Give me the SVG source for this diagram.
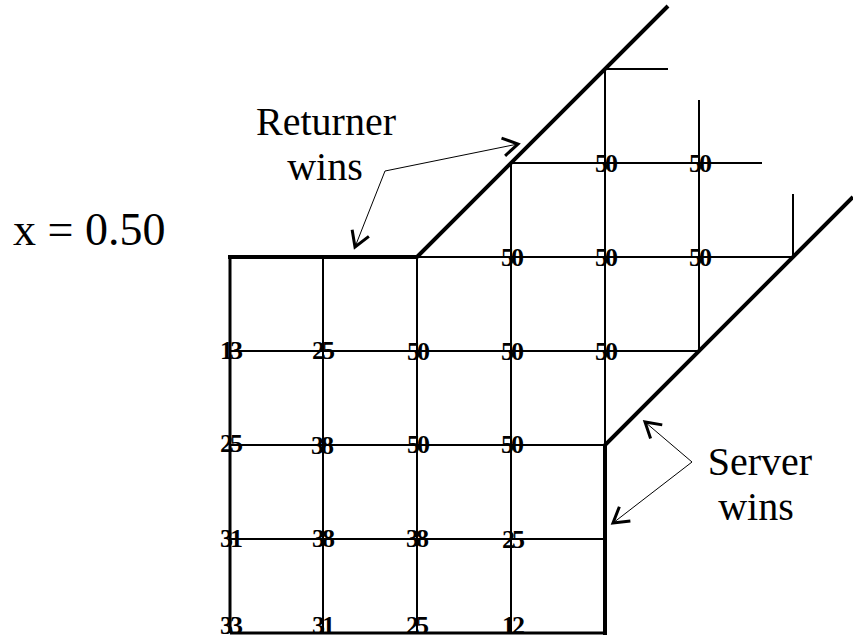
<svg xmlns="http://www.w3.org/2000/svg" width="853" height="639" viewBox="0 0 853 639">
<style>
.thin{stroke:#000;stroke-width:2;fill:none}
.thick{stroke:#000;stroke-width:4;fill:none;stroke-linecap:butt}
.lead{stroke:#000;stroke-width:1;fill:none}
text{font-family:"Liberation Serif","Times New Roman","DejaVu Serif",serif;fill:#000}
.num{font-size:26px;letter-spacing:-3px;text-anchor:middle;font-weight:bold}
.lbl{font-size:40px;text-anchor:middle}
.ttl{font-size:46px}
</style>
<defs>
<marker id="arr" markerUnits="userSpaceOnUse" markerWidth="24" markerHeight="24" refX="0" refY="0" viewBox="-20 -12 24 24" orient="auto">
<path d="M-15,-9 L0,0 L-15,9" fill="none" stroke="#000" stroke-width="3"/>
</marker>
</defs>
<rect width="853" height="639" fill="#fff"/>
<g id="grid">
<line class="thin" x1="323" y1="257" x2="323" y2="633"/>
<line class="thin" x1="417" y1="257" x2="417" y2="633"/>
<line class="thin" x1="511" y1="163" x2="511" y2="633"/>
<line class="thin" x1="605" y1="69" x2="605" y2="445"/>
<line class="thin" x1="699" y1="100" x2="699" y2="351"/>
<line class="thin" x1="793" y1="194" x2="793" y2="257"/>
<line class="thin" x1="605" y1="69" x2="668" y2="69"/>
<line class="thin" x1="511" y1="163" x2="762" y2="163"/>
<line class="thin" x1="417" y1="257" x2="793" y2="257"/>
<line class="thin" x1="230" y1="351" x2="699" y2="351"/>
<line class="thin" x1="230" y1="445" x2="605" y2="445"/>
<line class="thin" x1="230" y1="539" x2="605" y2="539"/>
<line class="thin" x1="230" y1="633" x2="605" y2="633" style="stroke-width:3"/>
<line class="thin" x1="230" y1="257" x2="230" y2="633" style="stroke-width:3"/>
</g>
<g id="boundaries">
<polyline class="thick" points="228,257 417,257 668,6"/>
<polyline class="thick" points="605,635 605,445 853,197"/>
</g>
<g id="values">
<text class="num" x="605" y="172">50</text><text class="num" x="699" y="172">50</text>
<text class="num" x="511" y="266">50</text><text class="num" x="605" y="266">50</text><text class="num" x="699" y="266">50</text>
<text class="num" x="230" y="359">13</text><text class="num" x="322" y="359">25</text><text class="num" x="417" y="360">50</text><text class="num" x="511" y="360">50</text><text class="num" x="605" y="360">50</text>
<text class="num" x="230" y="452">25</text><text class="num" x="321" y="454">38</text><text class="num" x="417" y="453">50</text><text class="num" x="511" y="453">50</text>
<text class="num" x="230" y="547">31</text><text class="num" x="322" y="547">38</text><text class="num" x="416" y="547">38</text><text class="num" x="512" y="548">25</text>
<text class="num" x="230" y="634">33</text><text class="num" x="322" y="634">31</text><text class="num" x="416" y="634">25</text><text class="num" x="512" y="634">12</text>
</g>
<g id="title">
<text class="ttl" x="13" y="245">x = 0.50</text>
</g>
<g id="returner-label">
<text class="lbl" x="326" y="135">Returner</text>
<text class="lbl" x="325" y="180">wins</text>
</g>
<g id="server-label">
<text class="lbl" x="760" y="475">Server</text>
<text class="lbl" x="756" y="520">wins</text>
</g>
<g id="connectors">
<polyline class="lead" points="385,171 518,144" marker-end="url(#arr)"/>
<polyline class="lead" points="385,171 355,247" marker-end="url(#arr)"/>
<polyline class="lead" points="692,462 645,422" marker-end="url(#arr)"/>
<polyline class="lead" points="692,462 613,523" marker-end="url(#arr)"/>
</g>
</svg>
